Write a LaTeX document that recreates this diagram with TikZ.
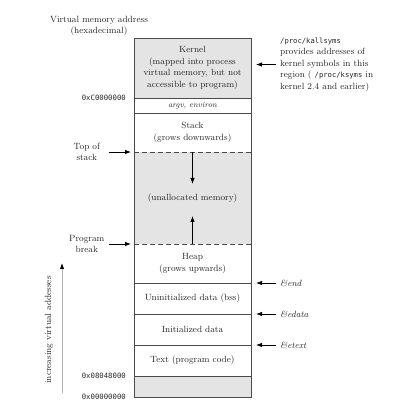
\documentclass[tikz,border=0pt]{standalone}
\usepackage{fontspec}
\setmonofont{DejaVu Sans Mono}
\usetikzlibrary{positioning, arrows.meta}
\definecolor{memgray}{HTML}{E4E4E4}
\definecolor{lineclr}{HTML}{4A4A4A}

\begin{document}
\begin{tikzpicture}
    [
      x=1pt, y=1pt,
      font=\fontsize{9}{11.5}\selectfont, text=black!85,
      REGION/.style={rectangle, draw=lineclr, line width=0.9pt, minimum width=117pt, inner sep=0pt, outer sep=0pt, align=center},
      OPEN/.style={REGION, draw=none},
      ADDR/.style={font=\ttfamily\fontsize{7.3}{9}\selectfont, left=8pt, inner sep=0pt},
      NOTE/.style={align=left, anchor=west, inner sep=0pt},
      SIDE/.style={align=center, text width=40pt, inner xsep=0pt},
      POINTER/.style={-{Latex[length=6pt, width=4.5pt]}, line width=0.8pt, black},
    ]
    \useasboundingbox (0,0) rectangle (405,406);

    % memory column
    \node[REGION, fill=memgray, minimum height=60pt, anchor=north west] (kernel) at (134,368) {Kernel\\(mapped into process\\virtual memory, but not\\accessible to program)};
    \node[REGION, minimum height=15pt, below=0pt of kernel, font=\itshape\fontsize{8}{10}\selectfont] (argv) {argv, environ};
    \node[OPEN, minimum height=39pt, below=0pt of argv] (stack) {Stack\\(grows downwards)};
    \node[OPEN, fill=memgray, minimum height=92pt, below=0pt of stack] (unalloc) {(unallocated memory)};
    \node[OPEN, minimum height=39pt, below=0pt of unalloc] (heap) {Heap\\(grows upwards)};
    \node[REGION, minimum height=31pt, below=0pt of heap] (bss) {Uninitialized data (bss)};
    \node[REGION, minimum height=31pt, below=0pt of bss] (data) {Initialized data};
    \node[REGION, minimum height=31pt, below=0pt of data] (text) {Text (program code)};
    \node[REGION, fill=memgray, minimum height=21pt, below=0pt of text] (unused) {};

    \draw[lineclr, line width=0.9pt] (kernel.north west) rectangle (unused.south east);
    \draw[lineclr, line width=0.9pt, dash pattern=on 5pt off 3pt] (unalloc.north west) -- (unalloc.north east);
    \draw[lineclr, line width=0.9pt, dash pattern=on 5pt off 3pt] (unalloc.south west) -- (unalloc.south east);
    \draw[POINTER] (unalloc.north) -- ([yshift=-32pt]unalloc.north);
    \draw[POINTER] (unalloc.south) -- ([yshift=28pt]unalloc.south);

    % addresses
    \node[align=center] (vmaddr) at (99,380) {Virtual memory address\\(hexadecimal)};
    \node[ADDR] (addrkernel) at (kernel.south west) {0xC0000000};
    \node[ADDR] (addrtext) at (text.south west) {0x08048000};
    \node[ADDR] (addrzero) at (unused.south west) {0x00000000};

    % left side pointers
    \node[SIDE, left=27pt of unalloc.north west] (topstack) {Top of\\stack};
    \node[SIDE, left=27pt of unalloc.south west] (progbreak) {Program\\break};
    \draw[POINTER, shorten <=2pt, shorten >=3pt] (topstack.east) -- (unalloc.north west);
    \draw[POINTER, shorten <=2pt, shorten >=3pt] (progbreak.east) -- (unalloc.south west);

    % right side notes
    \node[NOTE, right=29pt of kernel.east, yshift=3.5pt] (ksyms) {{\ttfamily\fontsize{7.2}{9}\selectfont /proc/kallsyms}\\provides addresses of\\kernel symbols in this\\region ( {\ttfamily\fontsize{7.2}{9}\selectfont /proc/ksyms} in\\kernel 2.4 and earlier)};
    \node[NOTE, right=29pt of bss.north east] (endsym) {\textit{\&end}};
    \node[NOTE, right=29pt of data.north east] (edatasym) {\textit{\&edata}};
    \node[NOTE, right=29pt of text.north east] (etextsym) {\textit{\&etext}};
    \draw[POINTER, shorten <=4pt, shorten >=5pt] (ksyms.west) -- (ksyms.west -| kernel.east);
    \draw[POINTER, shorten <=4pt, shorten >=5pt] (endsym.west) -- (bss.north east);
    \draw[POINTER, shorten <=4pt, shorten >=5pt] (edatasym.west) -- (data.north east);
    \draw[POINTER, shorten <=4pt, shorten >=5pt] (etextsym.west) -- (text.north east);

    % direction of addresses
    \coordinate (addrlow) at (62,13);
    \coordinate (addrhigh) at (62,143);
    \draw[gray!60, line width=0.9pt, -{Latex[length=6pt, width=4.5pt, color=black]}] (addrlow) -- (addrhigh);
    \node[rotate=90] (addrdir) at (49,76) {increasing virtual addesses};
\end{tikzpicture}
\end{document}
